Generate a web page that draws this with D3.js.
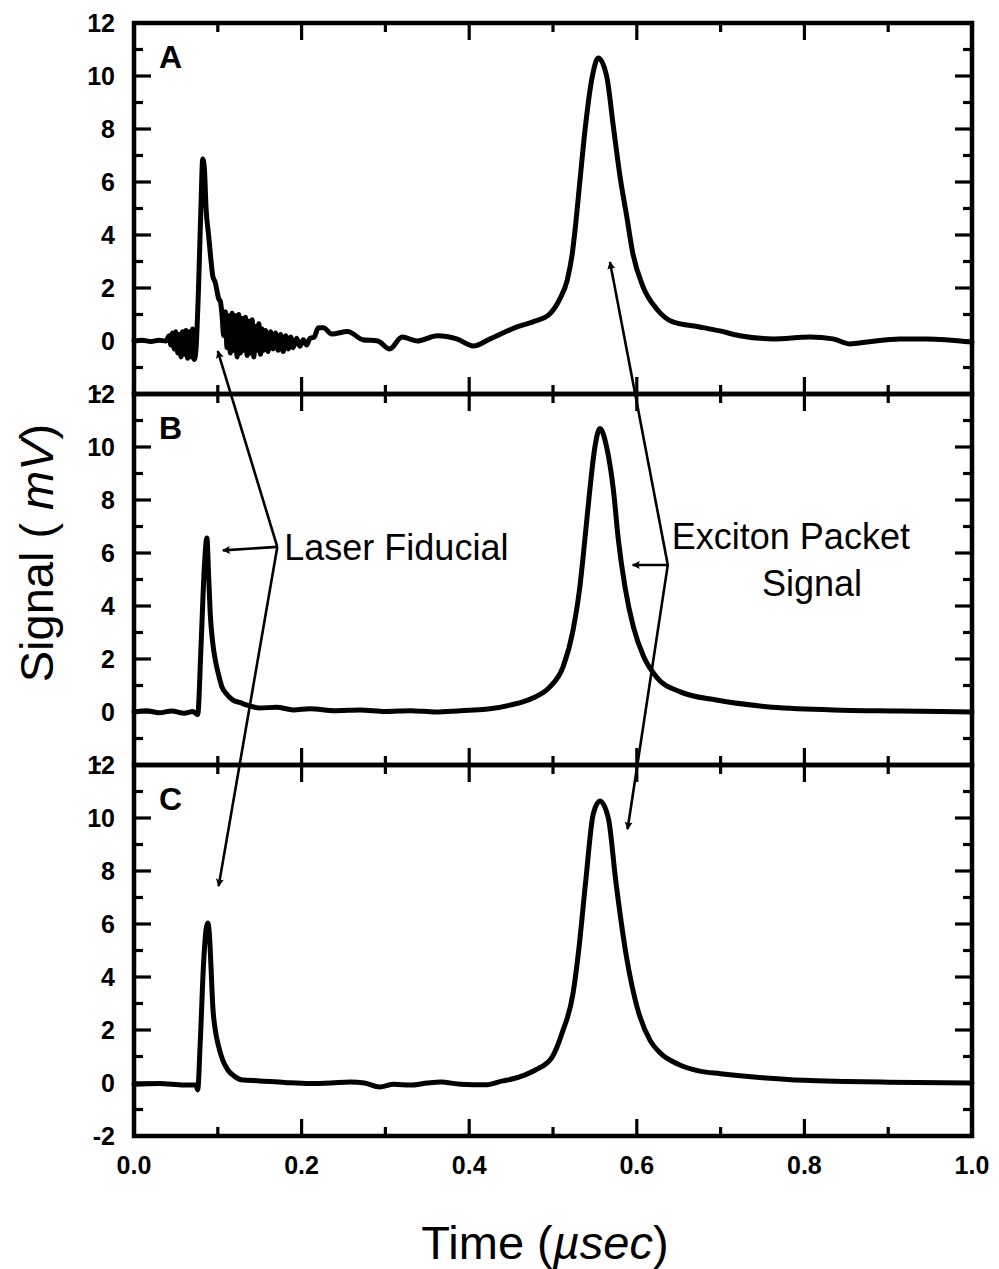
<!DOCTYPE html>
<html>
<head>
<meta charset="utf-8">
<script src="https://cdn.jsdelivr.net/npm/d3@7"></script>
<style>
  html, body { margin: 0; padding: 0; background: #fff; }
  svg { display: block; }
</style>
</head>
<body>
<svg id="chart" width="999" height="1269"></svg>
<script>
// ---------------- DATA ----------------
const panelNames = ["A", "B", "C"];
const xTickLabels = ["0.0", "0.2", "0.4", "0.6", "0.8", "1.0"];
const yTickValues = [-2, 0, 2, 4, 6, 8, 10, 12];

// [time (µs), signal (mV)]
const signalA = [
  [0.000,0.00],[0.010,0.03],[0.020,-0.02],[0.030,0.03],[0.038,0.00],[0.042,0.20],[0.044,-0.15],
  [0.046,0.30],[0.048,-0.30],[0.050,0.35],[0.052,-0.45],[0.054,0.25],[0.056,-0.60],[0.058,0.35],
  [0.060,-0.50],[0.062,0.40],[0.064,-0.65],[0.066,0.35],[0.068,-0.60],[0.070,0.45],[0.072,-0.70],
  [0.074,-0.30],[0.077,2.0],[0.080,5.2],[0.082,6.87],[0.084,6.5],[0.086,5.0],[0.089,4.0],
  [0.092,3.0],[0.094,2.45],[0.097,2.2],[0.099,1.9],[0.101,1.6],[0.103,1.5],[0.105,1.0],
  [0.107,0.2],[0.109,1.1],[0.111,-0.25],[0.113,0.95],[0.115,-0.45],[0.117,1.05],[0.119,-0.35],
  [0.121,0.95],[0.123,-0.6],[0.125,1.0],[0.127,-0.45],[0.129,0.85],[0.131,-0.35],[0.133,0.9],
  [0.135,-0.55],[0.137,0.75],[0.139,-0.45],[0.141,0.8],[0.143,-0.6],[0.145,0.55],[0.147,-0.35],
  [0.149,0.65],[0.151,-0.5],[0.153,0.45],[0.155,-0.35],[0.157,0.4],[0.160,-0.4],[0.163,0.35],
  [0.166,-0.3],[0.169,0.3],[0.172,-0.35],[0.175,0.25],[0.178,-0.4],[0.181,0.2],[0.184,-0.3],
  [0.187,0.15],[0.190,-0.25],[0.194,0.1],[0.198,-0.2],[0.202,0.05],[0.206,-0.15],[0.210,0.1],
  [0.215,0.15],[0.220,0.5],[0.226,0.5],[0.236,0.26],[0.255,0.36],[0.273,0.05],[0.291,0.0],
  [0.305,-0.3],[0.320,0.15],[0.338,0.0],[0.362,0.2],[0.385,0.08],[0.405,-0.19],[0.425,0.08],
  [0.457,0.53],[0.476,0.72],[0.496,1.02],[0.508,1.58],[0.517,2.3],[0.523,3.3],[0.526,4.1],
  [0.532,6.0],[0.538,7.9],[0.547,10.0],[0.554,10.68],[0.564,10.0],[0.572,8.1],[0.580,6.2],
  [0.588,4.7],[0.595,3.35],[0.607,2.08],[0.624,1.2],[0.643,0.72],[0.675,0.53],[0.699,0.38],
  [0.723,0.2],[0.763,0.08],[0.807,0.15],[0.834,0.08],[0.854,-0.11],[0.875,-0.04],[0.914,0.08],
  [0.946,0.08],[1.000,-0.04]
];

const signalB = [
  [0.000,0.00],[0.015,0.05],[0.030,-0.03],[0.045,0.04],[0.060,-0.05],[0.070,0.02],[0.076,-0.10],
  [0.080,2.5],[0.084,5.5],[0.087,6.57],[0.089,5.2],[0.091,3.7],[0.094,2.6],[0.097,1.96],
  [0.101,1.4],[0.105,0.94],[0.110,0.7],[0.118,0.45],[0.127,0.35],[0.135,0.26],[0.150,0.15],
  [0.170,0.18],[0.190,0.08],[0.210,0.12],[0.240,0.05],[0.270,0.08],[0.300,0.02],[0.330,0.05],
  [0.360,0.0],[0.390,0.05],[0.420,0.1],[0.449,0.26],[0.476,0.53],[0.496,0.94],[0.512,1.7],
  [0.524,3.1],[0.532,4.7],[0.538,6.5],[0.544,8.4],[0.550,10.0],[0.556,10.7],[0.564,10.0],
  [0.572,8.4],[0.578,6.5],[0.586,4.7],[0.596,3.2],[0.608,2.1],[0.624,1.3],[0.652,0.76],
  [0.695,0.45],[0.755,0.2],[0.834,0.08],[0.914,0.04],[1.000,0.0]
];

const signalC = [
  [0.000,-0.05],[0.030,-0.02],[0.060,-0.08],[0.074,-0.08],[0.076,-0.26],[0.079,1.5],[0.083,4.5],
  [0.086,5.8],[0.088,6.04],[0.090,5.6],[0.092,4.3],[0.094,2.9],[0.097,2.0],[0.101,1.38],
  [0.106,0.85],[0.112,0.49],[0.120,0.25],[0.128,0.12],[0.150,0.08],[0.180,0.02],[0.210,-0.02],
  [0.235,0.0],[0.258,0.04],[0.275,0.0],[0.293,-0.15],[0.310,-0.05],[0.330,-0.08],[0.350,0.0],
  [0.366,0.04],[0.390,-0.05],[0.419,-0.07],[0.440,0.08],[0.451,0.15],[0.466,0.3],[0.479,0.49],
  [0.499,0.98],[0.511,1.9],[0.524,3.4],[0.531,5.1],[0.539,7.6],[0.548,10.15],[0.556,10.64],
  [0.566,10.0],[0.575,7.6],[0.588,4.7],[0.600,2.9],[0.616,1.6],[0.628,1.13],[0.650,0.7],
  [0.675,0.45],[0.700,0.35],[0.750,0.2],[0.800,0.1],[0.850,0.06],[0.900,0.03],[1.000,0.0]
];

const seriesList = [signalA, signalB, signalC];

// annotation anchor points: [panel index, time, signal]
const laserJunction = [1, 0.171, 6.23];
const laserTargets = [[0, 0.100, -0.38], [1, 0.106, 6.1], [2, 0.101, 7.43]];
const excitonJunction = [1, 0.637, 5.55];
const excitonTargets = [[0, 0.568, 2.98], [1, 0.595, 5.55], [2, 0.589, 9.58]];

// ---------------- LAYOUT ----------------
const svg = d3.select("#chart");
const left = 134, right = 972;
const panelTop = [23, 394, 765];
const panelH = 371;

const x = d3.scaleLinear().domain([0, 1]).range([left, right]);
const yScales = panelTop.map(t => d3.scaleLinear().domain([-2, 12]).range([t + panelH, t]));

const FONT = "'Liberation Sans', Arial, Helvetica, sans-serif";
const majorLen = 17, minorLen = 9;

const xTicksAll = d3.range(0, 11).map(i => i / 10);
const yTicksAll = d3.range(-2, 13);

const line = d3.line().curve(d3.curveMonotoneX);

panelTop.forEach((top, i) => {
  const y = yScales[i];
  const g = svg.append("g");

  // data curve
  g.append("path")
    .datum(seriesList[i])
    .attr("d", line.x(d => x(d[0])).y(d => y(d[1])))
    .attr("fill", "none")
    .attr("stroke", "#000")
    .attr("stroke-width", 5)
    .attr("stroke-linejoin", "round")
    .attr("stroke-linecap", "round");

  // ticks (inward on all four sides)
  const tk = g.append("g").attr("stroke", "#000").attr("stroke-width", 3.2);
  xTicksAll.forEach(v => {
    const major = Math.round(v * 10) % 2 === 0;
    const L = major ? majorLen : minorLen;
    if (v === 0 || v === 1) return;
    tk.append("line").attr("x1", x(v)).attr("x2", x(v)).attr("y1", y(12)).attr("y2", y(12) + L);
    tk.append("line").attr("x1", x(v)).attr("x2", x(v)).attr("y1", y(-2)).attr("y2", y(-2) - L);
  });
  yTicksAll.forEach(v => {
    if (v === -2 || v === 12) return;
    const L = (v % 2 === 0) ? majorLen : minorLen;
    tk.append("line").attr("x1", x(0)).attr("x2", x(0) + L).attr("y1", y(v)).attr("y2", y(v));
    tk.append("line").attr("x1", x(1)).attr("x2", x(1) - L).attr("y1", y(v)).attr("y2", y(v));
  });

  // frame
  g.append("rect")
    .attr("x", x(0)).attr("y", y(12))
    .attr("width", x(1) - x(0)).attr("height", y(-2) - y(12))
    .attr("fill", "none").attr("stroke", "#000").attr("stroke-width", 4.5);

  // y tick labels: at shared panel borders the "-2" of the panel above and the
  // "12" of the panel below print on top of each other; draw that as one label
  // "12" with the minus sign struck across it.
  const labels = yTickValues.filter(d => !(d === -2 && i < panelTop.length - 1));
  g.append("g").selectAll("text").data(labels).join("text")
    .attr("x", 115).attr("y", d => y(d))
    .attr("dy", "0.36em")
    .attr("text-anchor", "end")
    .attr("font-family", FONT).attr("font-weight", "bold").attr("font-size", 25)
    .text(d => d);
  if (i > 0) {
    g.append("line")
      .attr("x1", 93).attr("x2", 101)
      .attr("y1", y(12) - 1).attr("y2", y(12) - 1)
      .attr("stroke", "#000").attr("stroke-width", 3);
  }

  // panel letter
  g.append("text")
    .attr("x", 159).attr("y", y(10.3))
    .attr("font-family", FONT).attr("font-weight", "bold").attr("font-size", 32)
    .text(panelNames[i]);
});

// x tick labels
svg.append("g").selectAll("text").data(xTickLabels).join("text")
  .attr("x", d => x(+d)).attr("y", yScales[2](-2) + 38)
  .attr("text-anchor", "middle")
  .attr("font-family", FONT).attr("font-weight", "bold").attr("font-size", 25)
  .text(d => d);

// axis titles
const xt = svg.append("text")
  .attr("x", 545).attr("y", 1259)
  .attr("text-anchor", "middle")
  .attr("font-family", FONT).attr("font-size", 47);
xt.append("tspan").text("Time (");
xt.append("tspan").attr("font-style", "italic").text("\u00B5sec");
xt.append("tspan").text(")");

const yt = svg.append("text")
  .attr("transform", "translate(53,553) rotate(-90)")
  .attr("text-anchor", "middle")
  .attr("font-family", FONT).attr("font-size", 47);
yt.append("tspan").text("Signal ( ");
yt.append("tspan").attr("font-style", "italic").text("mV");
yt.append("tspan").text(")");

// ---------------- ANNOTATIONS ----------------
const defs = svg.append("defs");
defs.append("marker")
  .attr("id", "arrow")
  .attr("viewBox", "0 0 10 10")
  .attr("refX", 9).attr("refY", 5)
  .attr("markerWidth", 13).attr("markerHeight", 8)
  .attr("markerUnits", "userSpaceOnUse")
  .attr("orient", "auto")
  .append("path").attr("d", "M0,0 L10,5 L0,10 L2,5 Z").attr("fill", "#000");

const pt = p => [x(p[1]), yScales[p[0]](p[2])];
const ann = svg.append("g").attr("stroke", "#000").attr("stroke-width", 2.6).attr("fill", "none");
[[laserJunction, laserTargets], [excitonJunction, excitonTargets]].forEach(([j, targets]) => {
  const [jx, jy] = pt(j);
  targets.forEach(t => {
    const [tx, ty] = pt(t);
    ann.append("line").attr("x1", jx).attr("y1", jy).attr("x2", tx).attr("y2", ty)
      .attr("marker-end", "url(#arrow)");
  });
});

const annText = (tx, ty, s, anchor) => svg.append("text")
  .attr("x", tx).attr("y", ty).attr("text-anchor", anchor)
  .attr("font-family", FONT).attr("font-size", 36).text(s);

const [lx, ly] = pt(laserJunction);
annText(lx + 7, ly + 13, "Laser Fiducial", "start");
const [ex, ey] = pt(excitonJunction);
annText(ex + 4, ey - 16, "Exciton Packet", "start");
annText(812, ey + 31, "Signal", "middle");
</script>
</body>
</html>
